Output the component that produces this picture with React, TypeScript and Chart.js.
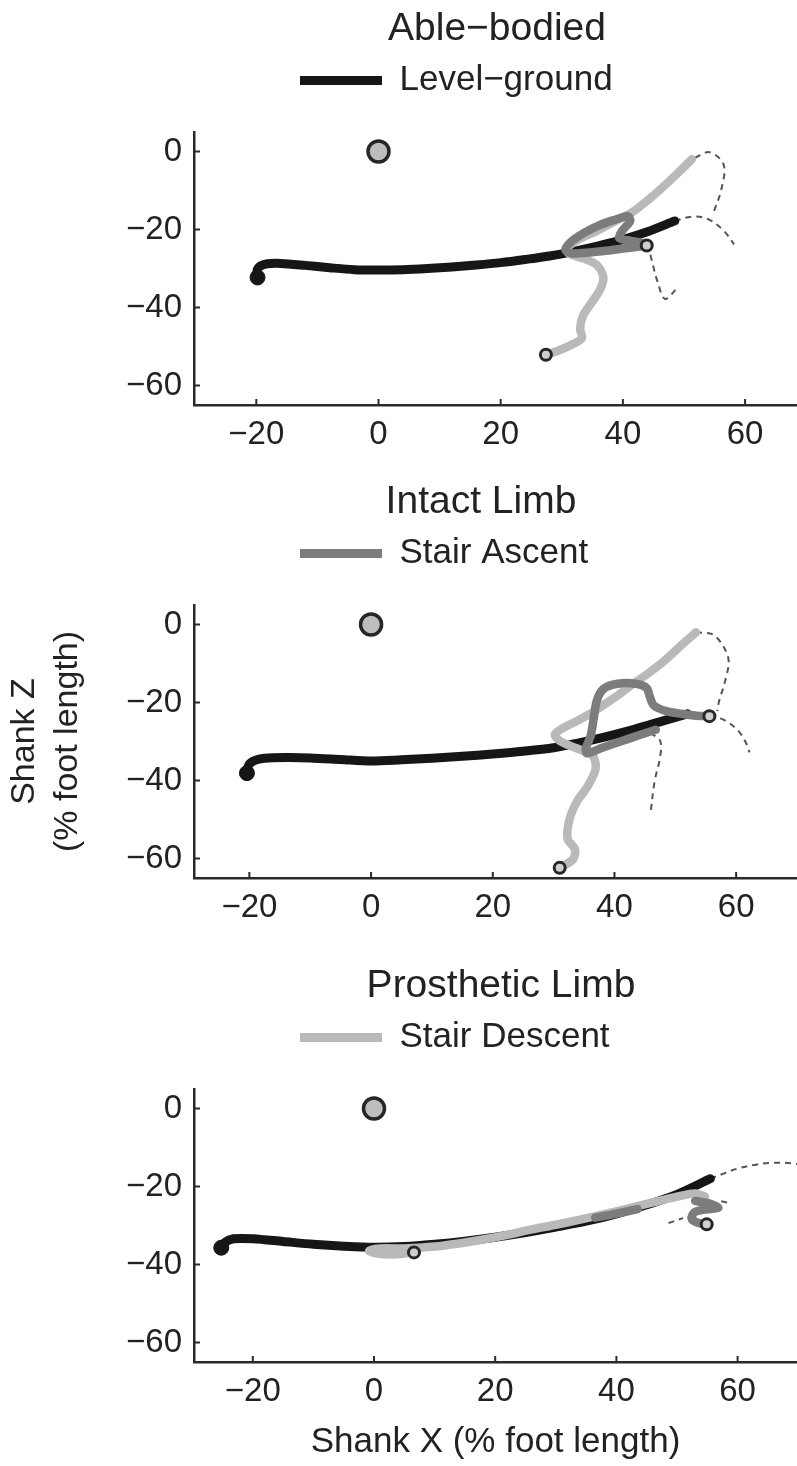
import React, { useEffect, useRef } from 'react';
import { Chart, registerables } from 'chart.js';

Chart.register(...registerables);

type Pt = [number, number] | null;

// ---------- text ----------
const panelTitles = ['Able\u2212bodied', 'Intact Limb', 'Prosthetic Limb'];
const legendLabels = ['Level\u2212ground', 'Stair Ascent', 'Stair Descent'];
const xAxisTitle = 'Shank X (% foot length)';
const yAxisTitle = ['Shank Z', '(% foot length)'];

// ---------- ticks ----------
const xTickValues = [-20, 0, 20, 40, 60];
const yTickValues = [-60, -40, -20, 0];

// ---------- shared reference point ----------
const originPoint: Pt[] = [[0, 0]];

// ---------- panel 1 : Able-bodied ----------
const p1Level: Pt[] = [
  [-19.8, -32.3], [-19.9, -30.6], [-19.4, -29.4], [-18.2, -28.8], [-16, -28.7], [-12, -29.2],
  [-8, -29.8], [-4, -30.3], [0, -30.4], [4, -30.3], [8, -30.0], [12, -29.6], [16, -29.1],
  [20, -28.5], [24, -27.7], [28, -26.8], [32, -25.6], [36, -24.2], [40, -22.6], [44, -20.6], [48.5, -17.8],
];
const p1Ascent: Pt[] = [
  [43.9, -24.1], [41.5, -24.6], [38, -25.3], [34.5, -25.9], [31.5, -26.1], [30.6, -25.2],
  [31.5, -23.2], [33.5, -21], [36, -19], [38.5, -17.6], [40.8, -16.6], [41.2, -17.8],
  [39.8, -20.5], [39.4, -22.2], [41, -22.8], [43, -23.4],
];
const p1Descent: Pt[] = [
  [27.4, -52.1], [29.4, -51.1], [31.9, -49.3], [33.3, -47.8], [33, -45.5], [33.5, -42],
  [35, -38.5], [36.3, -35.3], [36.8, -32.3], [35.8, -29.2], [33.5, -27.4], [31.2, -26.2],
  [30.8, -24.8], [32.8, -22.5], [35.8, -20.3], [38.8, -17.8], [41.5, -15.6], [44, -12.6],
  [46.5, -9.2], [49, -5.5], [51.3, -2.0],
];
const p1SwingA: Pt[] = [[48.5, -17.8], [51.3, -16.7], [53.9, -17.3], [56.5, -20.3], [58.2, -23.8]];
const p1SwingB: Pt[] = [[44.5, -26.5], [44.9, -29], [45.7, -33.5], [46.9, -37.8], [48.9, -35]];
const p1SwingC: Pt[] = [[51.8, -1.6], [54.2, -0.2], [56.5, -3.4], [56.1, -9.8], [54.8, -15.8]];

// ---------- panel 2 : Intact Limb ----------
const p2Level: Pt[] = [
  [-20.4, -38.1], [-20.1, -36], [-19.2, -34.9], [-17.5, -34.3], [-14, -34.1], [-10, -34.2],
  [-5, -34.6], [0, -35.0], [5, -34.7], [10, -34.3], [15, -33.8], [20, -33.2], [25, -32.5],
  [30, -31.6], [34, -30.4], [38, -29.0], [42, -27.4], [46, -25.6], [50, -23.8], [52, -22.9],
];
const p2Ascent: Pt[] = [
  [55.6, -23.5], [53.5, -23.4], [51, -22.9], [48.5, -22.2], [46.5, -20.8], [45.8, -18.5],
  [45.3, -16.3], [43.5, -15.2], [40.5, -15.2], [38.2, -16.5], [37.1, -19.5], [36.6, -24],
  [36.1, -28.5], [35.3, -31.8], [35.5, -33], [38, -31.6], [41, -30], [44, -28.4], [46.8, -27],
];
const p2Descent: Pt[] = [
  [31, -62.4], [33.2, -60.2], [33.5, -57.6], [32.3, -55], [32.6, -50], [33.8, -45.5],
  [35.6, -41.5], [36.9, -37], [36.4, -33.6], [33.5, -31.6], [31, -29.8], [30.2, -28.2],
  [31.5, -26.6], [34, -24.6], [36.5, -22.4], [39.8, -19], [43, -15.3], [46, -12],
  [48.5, -8.9], [51, -5.3], [53.4, -2],
];
const p2SwingA: Pt[] = [[55.6, -23.5], [57.9, -24.4], [60.2, -27], [61.5, -30], [62.2, -32.8]];
const p2SwingB: Pt[] = [[45.9, -27.8], [47.5, -29.8], [47.5, -34], [46.6, -40.2], [45.9, -48.8]];
const p2SwingC: Pt[] = [[53.4, -2], [56.4, -2.8], [58.7, -8.6], [58.2, -14.4], [57.2, -19.6], [56.9, -22.2]];

// ---------- panel 3 : Prosthetic Limb ----------
const p3Level: Pt[] = [
  [-25.2, -35.7], [-24.6, -34.3], [-23.2, -33.4], [-20, -33.4], [-15, -34.1], [-10, -34.8],
  [-5, -35.3], [0, -35.6], [5, -35.4], [10, -34.8], [15, -34], [20, -33], [25, -31.8],
  [30, -30.4], [35, -28.9], [40, -27.0], [45, -24.7], [50, -22.0], [55.5, -18.0],
];
const p3Ascent: Pt[] = [
  [54.9, -29.7], [53.4, -29.3], [52.4, -28.2], [52.9, -26.6], [54.6, -25.9], [56.8, -25.5],
  [55.6, -24.5], [53, -23.7], null, [43.5, -25.8], [40.5, -26.8], [37.5, -27.7], [36.5, -28.0],
];
const p3Descent: Pt[] = [
  [6.6, -36.9], [3.5, -37.4], [0.5, -37.2], [-0.8, -36.5], [1, -35.9], [5, -35.9], [10, -35.4],
  [14, -34.6], [18, -33.6], [22, -32.4], [26, -31.0], [30, -29.8], [34, -28.5], [38, -27.1],
  [42, -25.6], [46, -24.1], [50, -22.6], [53, -21.8], [54.6, -22.6],
];
const p3SwingA: Pt[] = [[55.5, -18.0], [57.5, -16.8], [60, -15.4], [63, -14.4], [66, -13.9], [69, -14.1], [72, -14.9], [75, -16.4]];
const p3SwingB: Pt[] = [[48.6, -29.4], [51, -28.1]];
const p3SwingC: Pt[] = [[57.3, -23.8], [58.8, -24.3]];

// ---------- styles ----------
const FONT = "'Liberation Sans', Arial, Helvetica, sans-serif";
const INK = '#222222';
const COLORS = {
  level: '#161616',
  ascent: '#7c7c7c',
  descent: '#b9b9b9',
  swing: '#555555',
  origin: '#bdbdbd',
  ring: '#262626',
  ringFill: '#cfcfcf',
};
const SERIES_COLORS = [COLORS.level, COLORS.ascent, COLORS.descent];

type PanelCfg = {
  top: number;
  height: number;
  xHeight: number;
  xMin: number;
  xMax: number;
  titleIdx: number;
  titleCx: number;
  level: Pt[];
  ascent: Pt[];
  descent: Pt[];
  swings: Pt[][];
  showYTitle: boolean;
  showXTitle: boolean;
};

const panels: PanelCfg[] = [
  { top: 0, height: 460, xHeight: 55, xMin: -30.2, xMax: 68.5, titleIdx: 0, titleCx: 497,
    level: p1Level, ascent: p1Ascent, descent: p1Descent, swings: [p1SwingA, p1SwingB, p1SwingC],
    showYTitle: false, showXTitle: false },
  { top: 473, height: 460, xHeight: 55, xMin: -29.1, xMax: 70.0, titleIdx: 1, titleCx: 481,
    level: p2Level, ascent: p2Ascent, descent: p2Descent, swings: [p2SwingA, p2SwingB, p2SwingC],
    showYTitle: true, showXTitle: false },
  { top: 957, height: 509, xHeight: 104, xMin: -29.7, xMax: 69.8, titleIdx: 2, titleCx: 501,
    level: p3Level, ascent: p3Ascent, descent: p3Descent, swings: [p3SwingA, p3SwingB, p3SwingC],
    showYTitle: false, showXTitle: true },
];

function xy(pts: Pt[]) {
  return pts.map((p) => (p ? { x: p[0], y: p[1] } : { x: NaN, y: NaN }));
}

function lineDs(label: string, pts: Pt[], color: string, width: number, order: number, extra: any = {}) {
  return {
    label,
    data: xy(pts),
    showLine: true,
    borderColor: color,
    backgroundColor: color,
    borderWidth: width,
    pointRadius: 0,
    pointHoverRadius: 0,
    pointHitRadius: 0,
    tension: 0.3,
    borderCapStyle: 'round',
    borderJoinStyle: 'round',
    spanGaps: false,
    order,
    ...extra,
  };
}

function markerDs(label: string, pts: Pt[], radius: number, fill: string, stroke: string, bw: number) {
  return {
    label,
    data: xy(pts),
    showLine: false,
    pointRadius: radius,
    pointHoverRadius: radius,
    pointBackgroundColor: fill,
    pointBorderColor: stroke,
    pointBorderWidth: bw,
    order: 0,
  };
}

const fmtTick = (v: any) => {
  const n = Number(v);
  return n < 0 ? '\u2212' + Math.abs(n) : String(n);
};

// moves the legend to its left-aligned spot and centres the title like the original
const layoutNudge = {
  id: 'layoutNudge',
  afterLayout(chart: any, _args: any, opts: any) {
    const lg = chart.legend;
    if (lg && opts && typeof opts.legendX === 'number') {
      const pad = lg.options.labels.padding || 0;
      const w = lg.right - lg.left;
      lg.left = opts.legendX - pad;
      lg.right = lg.left + w;
      const dy = opts.legendDy || 0;
      lg.top += dy;
      lg.bottom += dy;
    }
    const tb = chart.titleBlock;
    if (tb && opts && typeof opts.titleCx === 'number') {
      const w = tb.right - tb.left;
      tb.left = opts.titleCx - w / 2;
      tb.right = tb.left + w;
    }
  },
};

// small tick marks pointing into the plot area
const innerTicks = {
  id: 'innerTicks',
  afterDatasetsDraw(chart: any, _args: any, opts: any) {
    const { ctx, chartArea, scales } = chart;
    const len = opts.length || 6;
    ctx.save();
    ctx.strokeStyle = opts.color || INK;
    ctx.lineWidth = opts.width || 2;
    for (const t of scales.x.ticks) {
      const px = scales.x.getPixelForValue(t.value);
      ctx.beginPath();
      ctx.moveTo(px, chartArea.bottom);
      ctx.lineTo(px, chartArea.bottom - len);
      ctx.stroke();
    }
    for (const t of scales.y.ticks) {
      const py = scales.y.getPixelForValue(t.value);
      ctx.beginPath();
      ctx.moveTo(chartArea.left, py);
      ctx.lineTo(chartArea.left + len, py);
      ctx.stroke();
    }
    ctx.restore();
  },
};

function buildConfig(p: PanelCfg): any {
  const datasets: any[] = [
    lineDs(legendLabels[0], p.level, COLORS.level, 9, 3),
    lineDs(legendLabels[1], p.ascent, COLORS.ascent, 8.5, 1),
    lineDs(legendLabels[2], p.descent, COLORS.descent, 8.5, 2),
  ];
  p.swings.forEach((s, i) => {
    datasets.push(lineDs('swing ' + (i + 1), s, COLORS.swing, 2, 4, { borderDash: [6, 5], borderCapStyle: 'butt', tension: 0.35 }));
  });
  datasets.push(markerDs('origin', originPoint, 10.5, COLORS.origin, COLORS.ring, 3.5));
  datasets.push(markerDs('level start', [p.level[0]], 7.5, COLORS.level, COLORS.level, 1));
  datasets.push(markerDs('ascent start', [p.ascent[0]], 5.5, COLORS.ringFill, COLORS.ring, 3));
  datasets.push(markerDs('descent start', [p.descent[0]], 5.5, COLORS.ringFill, COLORS.ring, 3));

  const li = p.titleIdx;

  return {
    type: 'scatter',
    data: { datasets },
    plugins: [layoutNudge, innerTicks],
    options: {
      animation: false,
      responsive: false,
      maintainAspectRatio: false,
      devicePixelRatio: 1,
      events: [],
      layout: { padding: 0, autoPadding: false },
      plugins: {
        title: {
          display: true,
          text: panelTitles[p.titleIdx],
          fullSize: false,
          color: INK,
          font: { family: FONT, size: 39, weight: 'normal', lineHeight: 1.2 },
          padding: { top: 5.6, bottom: 24.6 },
        },
        legend: {
          display: true,
          position: 'top',
          align: 'start',
          fullSize: false,
          labels: {
            boxWidth: 82,
            boxHeight: 9,
            padding: 10,
            color: INK,
            font: { family: FONT, size: 35 },
            generateLabels: () => [
              {
                text: legendLabels[li],
                fillStyle: SERIES_COLORS[li],
                strokeStyle: SERIES_COLORS[li],
                lineWidth: 0,
                hidden: false,
                datasetIndex: li,
                fontColor: INK,
              },
            ],
          },
        },
        tooltip: { enabled: false },
        layoutNudge: { legendX: 300, legendDy: -24, titleCx: p.titleCx },
        innerTicks: { length: 6, width: 2, color: '#2a2a2a' },
      },
      scales: {
        x: {
          type: 'linear',
          min: p.xMin,
          max: p.xMax,
          afterBuildTicks: (axis: any) => {
            axis.ticks = xTickValues.map((v) => ({ value: v }));
          },
          afterFit: (axis: any) => {
            axis.height = p.xHeight;
            axis.paddingLeft = 0;
            axis.paddingRight = 0;
          },
          grid: { display: true, drawOnChartArea: false, drawTicks: false },
          border: { display: true, color: '#2a2a2a', width: 2.5 },
          ticks: {
            color: INK,
            padding: 10,
            autoSkip: false,
            maxRotation: 0,
            font: { family: FONT, size: 33 },
            callback: fmtTick,
          },
          title: {
            display: p.showXTitle,
            text: xAxisTitle,
            color: INK,
            font: { family: FONT, size: 35, lineHeight: 1.2 },
            padding: { top: 0, bottom: 3 },
          },
        },
        y: {
          type: 'linear',
          min: -65,
          max: 5,
          afterBuildTicks: (axis: any) => {
            axis.ticks = yTickValues.map((v) => ({ value: v }));
          },
          afterFit: (axis: any) => {
            axis.width = 194;
            axis.paddingTop = 0;
            axis.paddingBottom = 0;
          },
          grid: { display: true, drawOnChartArea: false, drawTicks: false },
          border: { display: true, color: '#2a2a2a', width: 2.5 },
          ticks: {
            color: INK,
            padding: 12,
            font: { family: FONT, size: 33 },
            callback: fmtTick,
          },
          title: {
            display: p.showYTitle,
            text: yAxisTitle,
            color: INK,
            font: { family: FONT, size: 34, lineHeight: 1.25 },
            padding: { top: 3.75, bottom: 0 },
          },
        },
      },
    },
  };
}

function Panel({ cfg }: { cfg: PanelCfg }) {
  const ref = useRef<HTMLCanvasElement | null>(null);
  useEffect(() => {
    if (!ref.current) return;
    const chart = new Chart(ref.current, buildConfig(cfg));
    return () => chart.destroy();
  }, [cfg]);
  return (
    <canvas
      ref={ref}
      width={797}
      height={cfg.height}
      style={{ position: 'absolute', left: 0, top: cfg.top, width: 797, height: cfg.height }}
    />
  );
}

export default function App() {
  return (
    <div
      style={{
        position: 'absolute',
        left: 0,
        top: 0,
        width: 797,
        height: 1466,
        overflow: 'hidden',
        background: '#ffffff',
      }}
    >
      {panels.map((p, i) => (
        <Panel key={i} cfg={p} />
      ))}
    </div>
  );
}
